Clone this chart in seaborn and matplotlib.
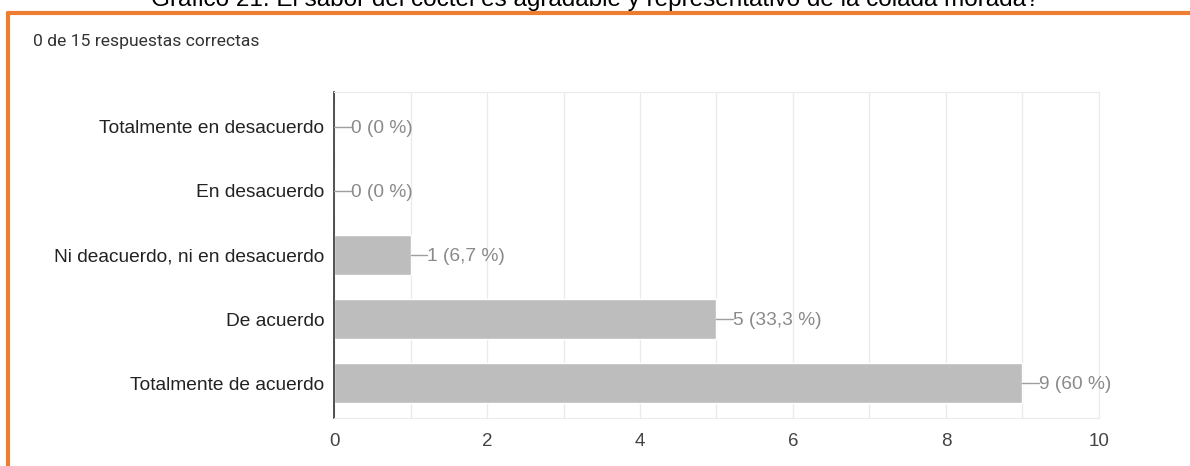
import matplotlib
matplotlib.use("Agg")
import matplotlib.pyplot as plt
import seaborn as sns
import pandas as pd

# datos del grafico
categorias = ["Totalmente en desacuerdo", "En desacuerdo", "Ni deacuerdo, ni en desacuerdo",
              "De acuerdo", "Totalmente de acuerdo"]
respuestas = [0, 0, 1, 5, 9]
etiquetas = ["0 (0 %)", "0 (0 %)", "1 (6,7 %)", "5 (33,3 %)", "9 (60 %)"]
ticks_x = [0, 2, 4, 6, 8, 10]

df = pd.DataFrame({"categoria": categorias, "n": respuestas})

sns.set_style("white")
plt.rcParams['font.family'] = ['Liberation Sans', 'DejaVu Sans']

fig = plt.figure(figsize=(11.9, 4.66), dpi=100)
ax = fig.add_axes([0.2807, 0.103, 0.6428, 0.6996])

sns.barplot(data=df, x="n", y="categoria", color="#bdbdbd", width=0.63,
            saturation=1, ax=ax, zorder=2)

ax.set_xlim(0, 10)
ax.set_xticks(ticks_x)
ax.set_xticks(range(0, 11, 1), minor=True)
ax.grid(axis="x", which="both", color="#ebebeb", linewidth=1, zorder=0)
ax.set_xlabel("")
ax.set_ylabel("")
for s in ["top", "right", "bottom"]:
    ax.spines[s].set_color("#ebebeb")
ax.spines["left"].set_color("#333333")
ax.spines["left"].set_linewidth(1.2)
ax.tick_params(axis="both", which="both", length=0)
ax.tick_params(axis="y", labelsize=13.8, labelcolor="#222222", pad=7)
ax.tick_params(axis="x", labelsize=13.5, labelcolor="#444444", pad=11)

# etiquetas de valor con guion
for i, (v, t) in enumerate(zip(respuestas, etiquetas)):
    ax.plot([v, v + 0.22], [i, i], color="#9e9e9e", linewidth=1, clip_on=False, zorder=3)
    ax.text(v + 0.22, i + 0.02, t, va="center", ha="left", fontsize=13.8, color="#8a8a8a")

# marco naranja
fig.add_artist(plt.Line2D([0.0071, 1.0], [0.9721, 0.9721], color="#ed7d31",
                          linewidth=3, transform=fig.transFigure))
fig.add_artist(plt.Line2D([0.0071, 0.0071], [0.0, 0.9721], color="#ed7d31",
                          linewidth=3, transform=fig.transFigure))

fig.text(0.5, 0.976, "Gráfico 21. El sabor del cóctel es agradable y representativo de la colada morada?",
         ha="center", va="bottom", fontsize=17.5, color="#000000")
fig.text(0.0277, 0.912, "0 de 15 respuestas correctas", ha="left", va="center",
         fontsize=12.6, color="#333333", family="Roboto")

fig.savefig("out.png", dpi=100)
